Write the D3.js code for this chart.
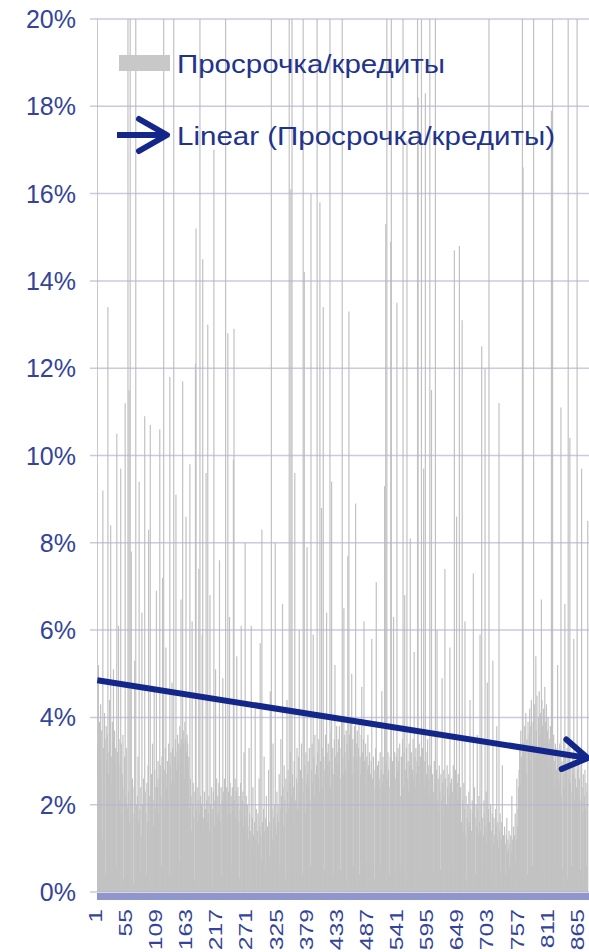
<!DOCTYPE html>
<html>
<head>
<meta charset="utf-8">
<script src="https://cdn.jsdelivr.net/npm/d3@7"></script>
<style>
  body { margin: 0; background: #fff; }
  svg { display: block; font-family: "Liberation Sans", Arial, sans-serif; }
</style>
</head>
<body>
<div id="chart"></div>
<script>
// overdue / loans ratio per borrower, in %
var overdueRatio = [
  26, 3.4, 5.2, 2.8, 3.9, 3.1, 4.3, 2.6, 3.7, 1.2, 9.2, 3.3, 2.9, 4.1, 3.5, 0.4, 3.8, 3.0,
  3.6, 13.4, 2.7, 3.2, 4.4, 0.8, 8.4, 3.1, 2.5, 3.9, 3.4, 5.1, 2.2, 3.7, 2.9, 3.3, 0.6, 10.5,
  3.2, 2.6, 6.1, 3.5, 2.1, 2.9, 9.7, 3.4, 1.8, 2.7, 3.6, 0.3, 2.4, 3.1, 11.2, 2.2, 3.3, 2.0,
  1.9, 24, 2.3, 11.5, 1.6, 22, 2.1, 7.8, 1.4, 2.6, 1.8, 0.2, 2.4, 5.3, 1.7, 25, 2.0, 1.5,
  2.2, 3.1, 1.6, 9.4, 1.9, 0.5, 2.4, 1.3, 6.4, 2.0, 1.7, 2.6, 1.1, 10.9, 2.3, 1.8, 0.4, 2.5,
  1.6, 2.9, 8.3, 1.4, 2.2, 10.7, 1.9, 2.7, 0.3, 3.4, 2.1, 1.5, 4.6, 2.8, 1.9, 2.4, 6.9, 2.6,
  2.4, 3.0, 1.8, 2.6, 10.6, 2.9, 2.2, 0.6, 3.1, 7.2, 2.5, 27, 2.8, 1.9, 3.3, 5.6, 2.4, 2.7,
  3.0, 2.1, 3.4, 0.4, 11.8, 2.9, 3.2, 2.5, 4.8, 3.3, 2.6, 23, 3.1, 2.4, 3.5, 9.1, 2.8, 3.2,
  3.6, 2.9, 3.4, 0.7, 3.8, 3.3, 6.7, 3.5, 3.0, 11.7, 3.7, 3.4, 2.6, 3.9, 3.5, 8.6, 3.2, 3.6,
  3.4, 2.8, 3.1, 1.9, 9.8, 2.6, 2.2, 1.4, 6.2, 2.0, 2.5, 1.7, 0.3, 2.3, 12.1, 15.2, 1.9, 2.4,
  1.6, 2.1, 7.4, 1.8, 26, 2.2, 1.5, 2.0, 5.9, 14.5, 1.7, 1.3, 2.3, 0.5, 1.9, 9.6, 2.1, 1.6,
  13.0, 1.8, 2.2, 1.4, 6.8, 2.0, 1.7, 2.4, 0.2, 1.9, 2.3, 17.0, 1.5, 2.1, 5.1, 1.8, 2.6, 1.7,
  2.2, 1.8, 2.5, 7.6, 2.0, 1.6, 2.4, 0.4, 2.1, 4.9, 2.3, 1.9, 2.6, 2.2, 24, 2.0, 2.4, 1.7,
  12.8, 2.3, 2.0, 6.3, 2.5, 1.8, 2.2, 0.6, 2.4, 1.9, 9.9, 12.9, 2.1, 2.6, 1.7, 2.3, 5.4, 2.0,
  2.4, 1.6, 2.2, 0.3, 1.9, 2.5, 6.1, 1.8, 2.1, 2.3, 1.5, 3.2, 2.0, 8.0, 1.7, 2.2, 1.4, 2.0,
  1.5, 1.2, 3.3, 1.8, 0.4, 1.4, 6.1, 1.1, 1.7, 2.4, 1.3, 0.9, 1.6, 4.2, 1.2, 1.9, 0.2, 1.4,
  1.8, 1.1, 2.6, 1.5, 5.7, 1.3, 0.7, 8.3, 1.6, 1.2, 1.9, 3.1, 1.4, 0.5, 1.7, 2.2, 1.0, 1.5,
  1.3, 2.8, 1.6, 0.8, 4.6, 1.4, 25, 1.9, 1.2, 3.4, 1.7, 1.1, 2.0, 8.0, 1.5, 1.3, 2.3, 1.8,
  2.0, 1.6, 2.7, 0.6, 1.9, 3.5, 2.2, 1.7, 6.6, 2.4, 1.5, 2.9, 2.1, 0.3, 2.6, 1.8, 4.4, 2.3,
  2.8, 1.9, 26, 2.5, 3.2, 16.1, 2.2, 22, 2.7, 1.6, 2.4, 3.0, 9.6, 2.1, 0.5, 2.6, 3.3, 1.9,
  2.5, 3.1, 6.0, 2.2, 2.8, 1.7, 3.4, 2.6, 0.4, 24, 2.3, 14.2, 2.9, 1.8, 3.2, 2.5, 7.9, 2.7,
  3.0, 2.4, 3.3, 2.1, 0.6, 16.0, 2.8, 3.4, 2.5, 5.9, 3.1, 2.2, 3.6, 2.7, 0.3, 2.9, 25, 3.2,
  2.6, 3.5, 2.3, 15.8, 3.0, 2.7, 8.8, 3.3, 2.4, 13.4, 3.1, 0.5, 2.8, 3.6, 2.5, 6.4, 3.2, 2.9,
  3.4, 2.6, 3.0, 23, 2.4, 3.7, 9.4, 2.8, 3.3, 0.4, 2.7, 3.5, 5.2, 3.1, 2.5, 3.8, 2.9, 3.2,
  3.5, 2.9, 3.8, 2.6, 0.5, 3.3, 3.9, 26, 3.1, 2.7, 6.5, 3.6, 3.2, 2.8, 3.7, 0.3, 3.4, 7.7,
  3.0, 13.3, 3.6, 2.9, 3.9, 3.3, 5.0, 2.7, 3.5, 0.6, 3.1, 3.8, 2.8, 8.9, 3.4, 3.0, 3.7, 2.6,
  3.3, 3.9, 0.4, 3.1, 2.7, 3.6, 4.7, 3.2, 2.9, 3.5, 6.2, 3.0, 2.5, 3.4, 0.7, 3.1, 2.8, 3.6,
  2.9, 2.5, 3.2, 0.5, 2.7, 3.0, 5.8, 2.6, 2.3, 3.1, 2.8, 0.3, 2.4, 3.3, 7.1, 2.7, 2.9, 2.2,
  3.0, 2.6, 2.4, 3.2, 0.6, 2.8, 4.6, 2.5, 3.1, 2.7, 2.3, 9.3, 2.9, 15.3, 3.0, 25, 2.6, 3.2,
  2.8, 2.4, 0.4, 3.1, 14.9, 27, 2.7, 3.0, 2.5, 6.3, 2.9, 3.2, 2.6, 0.5, 3.1, 13.5, 2.8, 3.3,
  3.0, 2.5, 3.4, 2.2, 0.6, 3.1, 2.7, 3.5, 24, 2.4, 3.2, 6.8, 2.8, 0.3, 3.3, 17.2, 2.6, 3.0,
  2.3, 3.4, 2.9, 8.1, 2.5, 3.2, 0.4, 2.8, 3.5, 2.6, 5.5, 3.1, 2.4, 3.3, 2.7, 3.0, 26, 18.2,
  2.9, 3.4, 2.5, 3.1, 0.5, 22, 2.8, 3.3, 2.6, 9.7, 3.0, 2.4, 18.3, 3.2, 2.7, 0.6, 3.5, 2.9,
  2.6, 2.2, 28, 2.9, 2.4, 11.5, 1.9, 2.7, 0.4, 2.3, 3.0, 2.0, 25, 2.5, 2.8, 6.0, 2.1, 2.6,
  1.8, 2.9, 2.3, 0.5, 2.7, 2.1, 4.9, 2.5, 1.7, 2.8, 2.2, 7.4, 2.6, 0.3, 2.0, 2.9, 2.4, 1.9,
  2.7, 2.2, 5.6, 2.5, 1.8, 2.6, 0.6, 2.3, 2.9, 2.0, 14.7, 2.4, 2.8, 1.9, 8.6, 2.5, 2.1, 2.7,
  2.2, 14.8, 1.8, 2.4, 0.5, 1.6, 13.1, 2.1, 1.4, 2.5, 1.9, 6.2, 1.3, 2.2, 0.3, 1.7, 2.0, 1.5,
  2.3, 1.6, 4.4, 1.9, 0.6, 1.4, 2.1, 1.8, 7.3, 1.2, 2.4, 1.7, 0.4, 2.0, 1.5, 3.6, 1.9, 1.3,
  2.2, 1.6, 5.9, 1.4, 2.0, 12.5, 1.7, 0.5, 1.3, 2.1, 1.8, 12.0, 1.5, 2.3, 1.1, 4.8, 1.7, 1.9,
  25, 1.6, 1.2, 2.0, 0.4, 1.4, 1.8, 5.3, 1.1, 1.7, 1.3, 0.3, 1.9, 1.5, 3.8, 1.2, 1.6, 1.0,
  11.2, 1.4, 1.8, 0.5, 1.2, 1.6, 2.9, 1.0, 1.3, 0.8, 1.5, 1.1, 0.4, 1.3, 1.7, 0.9, 1.2, 1.0,
  1.4, 0.6, 1.1, 1.3, 0.9, 2.2, 1.2, 0.3, 1.5, 1.0, 1.3, 1.8, 0.7, 1.2, 2.6, 1.5, 1.9, 2.4,
  2.8, 3.3, 2.5, 3.7, 3.1, 0.5, 27, 16.6, 3.4, 2.9, 3.8, 3.2, 4.1, 2.7, 3.5, 0.4, 3.9, 3.3,
  3.6, 4.2, 3.0, 3.8, 4.4, 3.4, 0.6, 3.9, 24, 3.5, 4.3, 3.1, 5.4, 3.7, 4.5, 3.2, 0.3, 4.0,
  4.6, 3.6, 4.1, 3.3, 6.7, 4.4, 3.8, 0.5, 4.2, 3.5, 4.7, 3.9, 3.2, 4.3, 0.4, 3.7, 4.0, 3.4,
  3.5, 2.9, 3.8, 0.4, 17.9, 3.2, 26, 2.7, 3.6, 3.0, 2.4, 3.4, 0.6, 2.8, 3.3, 5.2, 2.6, 3.1,
  2.5, 3.4, 2.9, 11.1, 2.2, 3.0, 0.5, 2.7, 3.5, 2.4, 6.6, 3.1, 2.0, 2.8, 3.3, 0.3, 24, 2.6,
  3.2, 10.4, 2.5, 2.9, 0.6, 2.3, 3.1, 2.7, 5.8, 2.1, 3.0, 2.6, 0.4, 2.4, 25, 2.8, 2.2, 3.0,
  2.6, 2.1, 0.5, 2.9, 9.7, 2.4, 1.8, 2.7, 0.3, 2.2, 2.8, 1.9, 2.5, 0.6, 2.3, 8.5
];

// linear trendline, value at the first and last category (%)
var trendValues = [4.85, 3.07];

var yTickValues = [0, 2, 4, 6, 8, 10, 12, 14, 16, 18, 20];
var xTickLabels = ["1", "55", "109", "163", "217", "271", "325", "379", "433",
  "487", "541", "595", "649", "703", "757", "811", "865"];

var seriesName = "Просрочка/кредиты";
var trendName = "Linear (Просрочка/кредиты)";

var width = 589, height = 952;
var plot = { left: 97, right: 588, top: 19, bottom: 892 };

var categories = overdueRatio.map(function (d, i) { return i + 1; });

var x = d3.scaleBand().domain(categories).range([plot.left, plot.right]).padding(0);
var y = d3.scaleLinear().domain([0, 20]).range([plot.bottom, plot.top]);

// bars are thinner than a pixel, so give each a minimum visible width
var barWidth = Math.max(x.bandwidth(), 1.2);

var svg = d3.select("#chart").append("svg")
  .attr("width", width)
  .attr("height", height);

var defs = svg.append("defs");

// bars above 20% are cut at the top of the plot
defs.append("clipPath")
  .attr("id", "plotClip")
  .append("rect")
  .attr("x", plot.left)
  .attr("y", y(20))
  .attr("width", plot.right - plot.left + 2)
  .attr("height", y(0) - y(20));

// arrow heads (open chevron)
function addArrow(id, len, half) {
  defs.append("marker")
    .attr("id", id)
    .attr("markerUnits", "userSpaceOnUse")
    .attr("viewBox", "-40 -25 50 50")
    .attr("markerWidth", 50)
    .attr("markerHeight", 50)
    .attr("refX", 0)
    .attr("refY", 0)
    .attr("orient", "auto")
    .append("path")
    .attr("d", "M" + (-len) + "," + (-half) + "L0,0L" + (-len) + "," + half)
    .attr("fill", "none")
    .attr("stroke", "#13278a")
    .attr("stroke-width", 6)
    .attr("stroke-linecap", "round")
    .attr("stroke-linejoin", "round");
}
addArrow("trendArrow", 24, 15);
addArrow("legendArrow", 28, 16);

// bars
svg.append("g")
  .attr("clip-path", "url(#plotClip)")
  .selectAll("rect")
  .data(overdueRatio)
  .join("rect")
  .attr("x", function (d, i) {
    return x(categories[i]) + x.bandwidth() / 2 - barWidth / 2;
  })
  .attr("width", barWidth)
  .attr("y", function (d) { return y(d); })
  .attr("height", function (d) { return y(0) - y(d); })
  .attr("fill", "#c2c2c2");

// horizontal gridlines, showing through the bars, also stick out left as ticks
svg.append("g")
  .selectAll("line")
  .data(yTickValues)
  .join("line")
  .attr("x1", plot.left - 7)
  .attr("x2", plot.right + 1)
  .attr("y1", function (d) { return y(d); })
  .attr("y2", function (d) { return y(d); })
  .attr("stroke", "#b3b3d3")
  .attr("stroke-opacity", 0.7)
  .attr("stroke-width", 1.5);

// category axis line, drawn as a thick lavender band
svg.append("rect")
  .attr("x", plot.left)
  .attr("y", y(0) + 1)
  .attr("width", plot.right - plot.left + 1)
  .attr("height", 7)
  .attr("fill", "#8f96cb");

// y tick labels
svg.append("g")
  .selectAll("text")
  .data(yTickValues)
  .join("text")
  .attr("x", 76)
  .attr("y", function (d) { return y(d); })
  .attr("dy", "0.36em")
  .attr("text-anchor", "end")
  .attr("fill", "#34449a")
  .style("font-size", "25px")
  .text(function (d) { return d + "%"; });

// x tick labels, rotated
svg.append("g")
  .selectAll("text")
  .data(xTickLabels)
  .join("text")
  .attr("transform", function (d) {
    var cx = x(+d) + x.bandwidth() / 2 - 2;
    return "translate(" + cx + ",909) rotate(-90) scale(1.3,1)";
  })
  .attr("text-anchor", "end")
  .attr("dominant-baseline", "central")
  .attr("fill", "#34449a")
  .style("font-size", "19px")
  .text(function (d) { return d; });

// linear trendline
var first = categories[0], last = categories[categories.length - 1];
svg.append("line")
  .attr("x1", x(first) + x.bandwidth() / 2)
  .attr("y1", y(trendValues[0]))
  .attr("x2", x(last) + x.bandwidth() / 2)
  .attr("y2", y(trendValues[1]))
  .attr("stroke", "#13278a")
  .attr("stroke-width", 6)
  .attr("marker-end", "url(#trendArrow)");

// legend
var legend = svg.append("g").attr("class", "legend");

legend.append("rect")
  .attr("x", 119)
  .attr("y", 55)
  .attr("width", 51)
  .attr("height", 16)
  .attr("fill", "#c8c8c8");

legend.append("text")
  .attr("x", 177)
  .attr("y", 73)
  .attr("fill", "#22338c")
  .attr("textLength", 268)
  .attr("lengthAdjust", "spacingAndGlyphs")
  .style("font-size", "26px")
  .text(seriesName);

legend.append("line")
  .attr("x1", 117)
  .attr("x2", 167)
  .attr("y1", 135)
  .attr("y2", 135)
  .attr("stroke", "#13278a")
  .attr("stroke-width", 6)
  .attr("marker-end", "url(#legendArrow)");

legend.append("text")
  .attr("x", 177)
  .attr("y", 145)
  .attr("fill", "#22338c")
  .attr("textLength", 378)
  .attr("lengthAdjust", "spacingAndGlyphs")
  .style("font-size", "26px")
  .text(trendName);
</script>
</body>
</html>
